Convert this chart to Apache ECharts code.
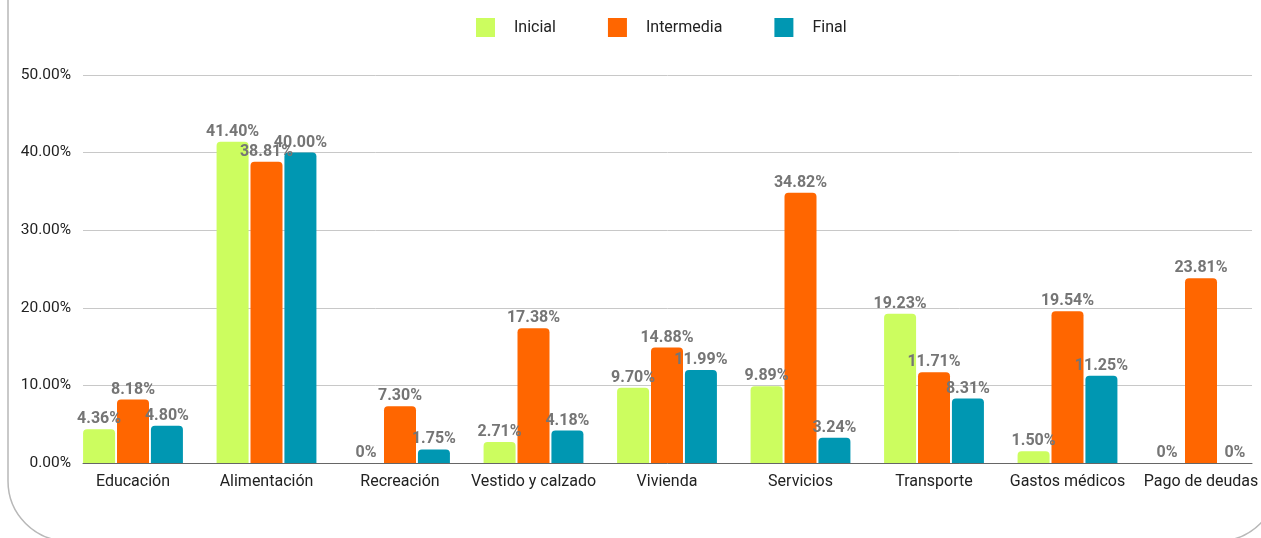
<!DOCTYPE html>
<html><head><meta charset="utf-8">
<script src="https://cdn.jsdelivr.net/npm/echarts@6/dist/echarts.min.js"></script>
<style>html,body{margin:0;padding:0;background:#fff;overflow:hidden}#c{width:1300px;height:538px}</style>
</head><body><div id="c"></div>
<script>
const categories = ['Educación','Alimentación','Recreación','Vestido y calzado','Vivienda','Servicios','Transporte','Gastos médicos','Pago de deudas'];
const seriesNames = ['Inicial','Intermedia','Final'];
const inicial = [4.36, 41.40, 0, 2.71, 9.70, 9.89, 19.23, 1.50, 0];
const intermedia = [8.18, 38.81, 7.30, 17.38, 14.88, 34.82, 11.71, 19.54, 23.81];
const final_ = [4.80, 40.00, 1.75, 4.18, 11.99, 3.24, 8.31, 11.25, 0];
const yTicks = [0, 10, 20, 30, 40, 50];
const colors = ['#ccfd5f', '#ff6600', '#0097b2'];

const chart = echarts.init(document.getElementById('c'), null, {renderer: 'canvas'});
const fmt = v => v === 0 ? '0%' : v.toFixed(2) + '%';
const mkSeries = (name, data, color) => ({
  name, type: 'bar', data, xAxisIndex: 0, yAxisIndex: 0,
  barWidth: 32, barGap: '6%',
  itemStyle: {color, borderRadius: [4, 4, 0, 0]},
  label: {show: true, position: 'top', distance: 2, formatter: p => fmt(p.value),
    color: '#757575', fontWeight: 'bold', fontSize: 16, fontFamily: 'Roboto'}
});
chart.setOption({
  animation: false,
  textStyle: {fontFamily: 'Roboto'},
  color: colors,
  legend: {
    data: seriesNames, top: 13, left: 471,
    itemWidth: 19, itemHeight: 19, itemGap: 52,
    icon: 'rect',
    textStyle: {color: '#222', fontSize: 16, fontFamily: 'Roboto', padding: [0, 0, 0, 14]}
  },
  grid: [
    {left: 66.25, top: 75, width: 1201.5, bottom: 75, containLabel: false},
    {left: 83, top: 75, width: 1169, bottom: 75, containLabel: false}
  ],
  xAxis: [
    {type: 'category', gridIndex: 0, data: categories,
     axisLine: {show: false}, axisTick: {show: false},
     axisLabel: {color: '#222', fontSize: 16, fontFamily: 'Roboto', margin: 11, interval: 0}},
    {type: 'value', gridIndex: 1, min: 0, max: 1, show: true,
     axisLine: {show: true, lineStyle: {color: '#666', width: 1}},
     axisTick: {show: false}, axisLabel: {show: false}, splitLine: {show: false}}
  ],
  yAxis: [
    {type: 'value', gridIndex: 0, min: yTicks[0], max: yTicks[yTicks.length-1], interval: 10, show: false, splitLine: {show: false}},
    {type: 'value', gridIndex: 1, min: yTicks[0], max: yTicks[yTicks.length-1], interval: 10,
     axisLine: {show: false}, axisTick: {show: false},
     axisLabel: {color: '#222', fontSize: 15.5, fontFamily: 'Roboto', margin: 12,
       formatter: v => v.toFixed(2) + '%'},
     splitLine: {lineStyle: {color: '#c8c8c8', width: 1}}}
  ],
  series: [
    mkSeries(seriesNames[0], inicial, colors[0]),
    mkSeries(seriesNames[1], intermedia, colors[1]),
    mkSeries(seriesNames[2], final_, colors[2])
  ],
  graphic: [{
    type: 'rect', z: -1, silent: true,
    shape: {x: 8, y: -100, width: 1270, height: 641, r: 60},
    style: {fill: 'none', stroke: '#b8b8b8', lineWidth: 1.5}
  }]
});
</script></body></html>
